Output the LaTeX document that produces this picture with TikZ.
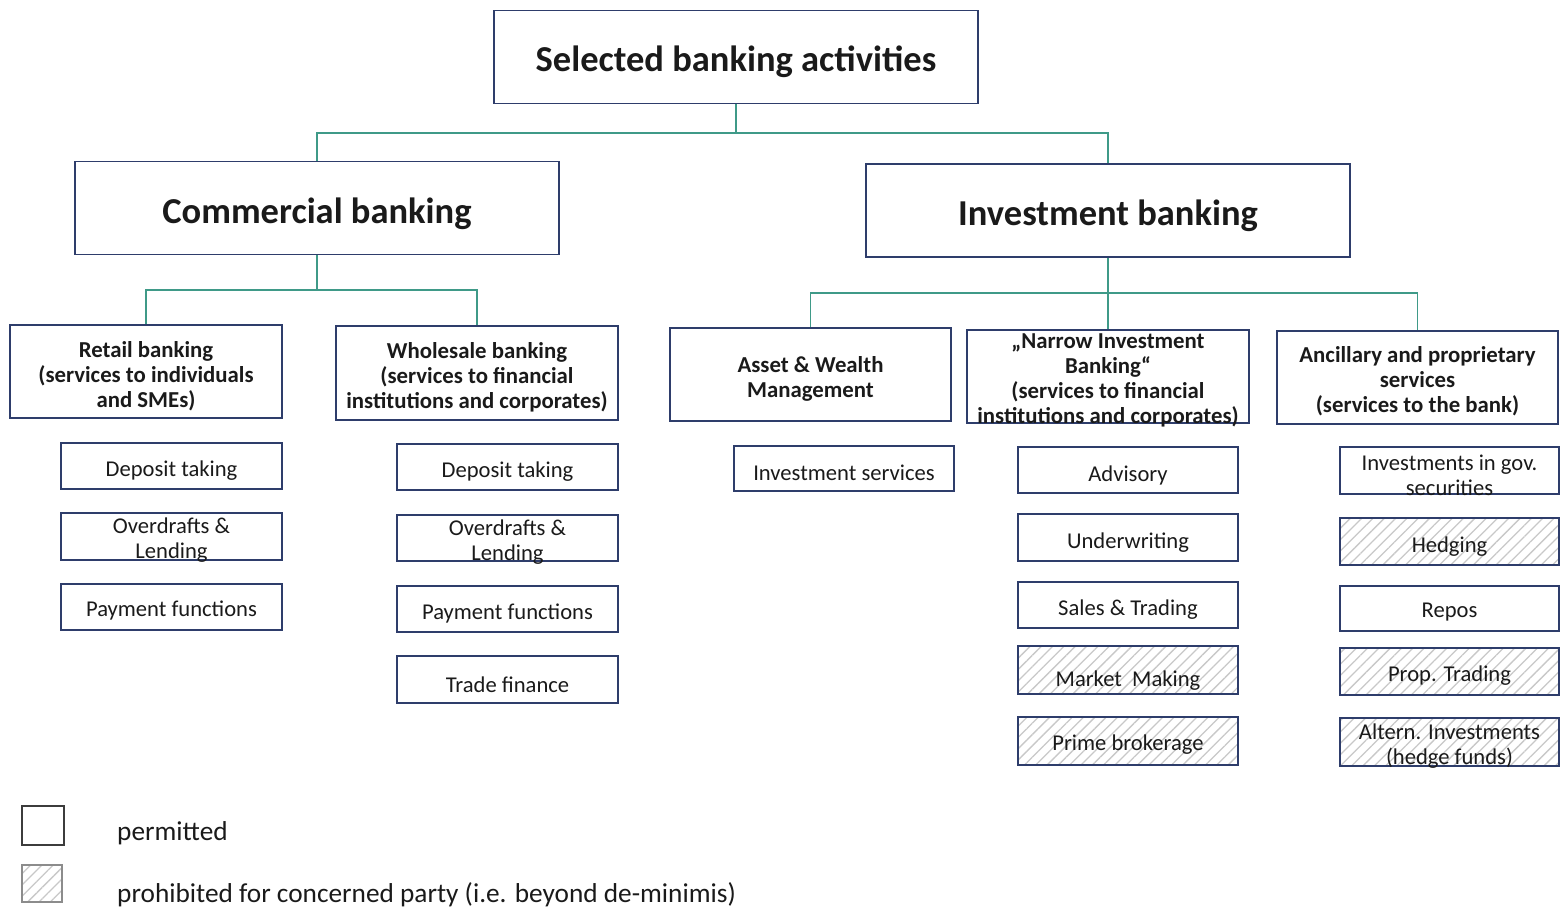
\documentclass[tikz,border=0pt]{standalone}
\usepackage{fontspec}
\setmainfont{Carlito}
\usetikzlibrary{patterns.meta}
\definecolor{boxline}{HTML}{2E3D6B}
\definecolor{conn}{HTML}{3F9A88}
\definecolor{hatch}{HTML}{C8C8C8}
\definecolor{ink}{HTML}{1A1A1A}
\begin{document}
\begin{tikzpicture}[x=1pt,y=-1pt,
  box/.style={draw=boxline, line width=1.8pt, inner sep=0pt},
  headbox/.style={box, minimum width=484pt, minimum height=93pt},
  headtext/.style={inner sep=0pt, text=ink,
    font=\bfseries\fontsize{36.5}{40}\selectfont},
  groupbox/.style={box, minimum width=281pt, minimum height=93pt},
  grouptext/.style={inner sep=0pt, align=center, text=ink,
    font=\bfseries\fontsize{22.8}{25}\selectfont},
  leaf/.style={box, minimum width=220pt, minimum height=46pt},
  leaftext/.style={inner sep=0pt, align=center, text=ink,
    font=\fontsize{22.6}{25}\selectfont},
  banned/.style={pattern={Lines[angle=45,distance=8pt,line width=1.3pt]},
    pattern color=hatch},
  link/.style={draw=conn, line width=1.8pt},
  legendtext/.style={anchor=west, inner sep=0pt, text=ink,
    font=\fontsize{27.3}{30}\selectfont}]
\useasboundingbox (0,0) rectangle (1560,907);

% ---- top level ----
\node[headbox] (root) at (736,57) {};
\node[headtext] (root-t) at ([yshift=-5pt]root.center) {Selected banking activities};
\node[headbox] (comm) at (317,208) {};
\node[headtext] (comm-t) at ([yshift=-6pt]comm.center) {Commercial banking};
\node[headbox] (inv) at (1108,210.5) {};
\node[headtext] (inv-t) at ([yshift=-5pt]inv.center) {Investment banking};

% ---- group boxes ----
\node[groupbox, minimum width=272pt] (retail) at (146,371.5) {};
\node[grouptext] (retail-t) at ([yshift=-4.5pt]retail.center)
  {Retail banking\\(services to individuals\\and SMEs)};
\node[groupbox, minimum width=282pt, minimum height=94pt] (whole) at (477,373) {};
\node[grouptext] (whole-t) at ([yshift=-4pt]whole.center)
  {Wholesale banking\\(services to financial\\institutions and corporates)};
\node[groupbox] (asset) at (810.5,374.5) {};
\node[grouptext] (asset-t) at ([yshift=-4pt]asset.center)
  {Asset \& Wealth\\Management};
\node[groupbox, minimum width=282pt] (narrow) at (1108,376.5) {};
\node[grouptext] (narrow-t) at ([yshift=-4pt]narrow.center)
  {„Narrow Investment\\Banking“\\(services to financial\\institutions and corporates)};
\node[groupbox] (ancil) at (1417.5,377.5) {};
\node[grouptext] (ancil-t) at ([yshift=-4pt]ancil.center)
  {Ancillary and proprietary\\services\\(services to the bank)};

% ---- connectors ----
\coordinate (j0) at (736,133);
\draw[link] (root.south) -- (j0) -| (comm.north);
\draw[link] (j0) -| (inv.north);
\coordinate (j1) at (317,290);
\draw[link] (comm.south) -- (j1) -| (retail.north);
\draw[link] (j1) -| (whole.north);
\coordinate (j2) at (1108,293);
\draw[link] (inv.south) -- (j2) -| (asset.north);
\draw[link] (j2) -- (narrow.north);
\draw[link] (j2) -| (ancil.north);

% ---- retail activities ----
\node[leaf, minimum width=221pt] (r1) at (171.5,466) {};
\node[leaftext] (r1-t) at ([yshift=-5pt]r1.center) {Deposit taking};
\node[leaf, minimum width=221pt, minimum height=47pt] (r2) at (171.5,536.5) {};
\node[leaftext] (r2-t) at ([yshift=-4pt]r2.center) {Overdrafts \&\\Lending};
\node[leaf, minimum width=221pt] (r3) at (171.5,607) {};
\node[leaftext] (r3-t) at ([yshift=-4pt]r3.center) {Payment functions};

% ---- wholesale activities ----
\node[leaf, minimum width=221pt] (w1) at (507.5,467) {};
\node[leaftext] (w1-t) at ([yshift=-5pt]w1.center) {Deposit taking};
\node[leaf, minimum width=221pt] (w2) at (507.5,538) {};
\node[leaftext] (w2-t) at ([yshift=-4pt]w2.center) {Overdrafts \&\\Lending};
\node[leaf, minimum width=221pt] (w3) at (507.5,609) {};
\node[leaftext] (w3-t) at ([yshift=-4pt]w3.center) {Payment functions};
\node[leaf, minimum width=221pt, minimum height=47pt] (w4) at (507.5,679.5) {};
\node[leaftext] (w4-t) at ([yshift=-5pt]w4.center) {Trade finance};

% ---- asset & wealth management ----
\node[leaf, minimum height=45pt] (a1) at (844,468.5) {};
\node[leaftext] (a1-t) at ([yshift=-4pt]a1.center) {Investment services};

% ---- narrow investment banking ----
\node[leaf] (n1) at (1128,470) {};
\node[leaftext] (n1-t) at ([yshift=-5pt]n1.center) {Advisory};
\node[leaf, minimum height=47pt] (n2) at (1128,537.5) {};
\node[leaftext] (n2-t) at ([yshift=-5pt]n2.center) {Underwriting};
\node[leaf] (n3) at (1128,605) {};
\node[leaftext] (n3-t) at ([yshift=-5pt]n3.center) {Sales \& Trading};
\node[leaf, banned, minimum height=48pt] (n4) at (1128,670) {};
\node[leaftext] (n4-t) at ([yshift=-11pt]n4.center) {Market\ \ Making};
\node[leaf, banned, minimum height=48pt] (n5) at (1128,741) {};
\node[leaftext] (n5-t) at ([yshift=-4pt]n5.center) {Prime brokerage};

% ---- ancillary and proprietary services ----
\node[leaf, minimum width=219pt, minimum height=47pt] (p1) at (1449.5,470.5) {};
\node[leaftext] (p1-t) at ([yshift=-5pt]p1.center) {Investments in gov.\\securities};
\node[leaf, banned, minimum width=219pt, minimum height=47pt] (p2) at (1449.5,541.5) {};
\node[leaftext] (p2-t) at ([yshift=-5pt]p2.center) {Hedging};
\node[leaf, minimum width=219pt, minimum height=45pt] (p3) at (1449.5,608.5) {};
\node[leaftext] (p3-t) at ([yshift=-4pt]p3.center) {Repos};
\node[leaf, banned, minimum width=219pt, minimum height=47pt] (p4) at (1449.5,671.5) {};
\node[leaftext] (p4-t) at ([yshift=-4pt]p4.center) {Prop. Trading};
\node[leaf, banned, minimum width=219pt, minimum height=48pt] (p5) at (1449.5,742) {};
\node[leaftext] (p5-t) at ([yshift=-4pt]p5.center) {Altern. Investments\\(hedge funds)};

% ---- legend ----
\node[draw=ink!85, line width=1.8pt, minimum width=42pt, minimum height=39pt,
  inner sep=0pt] (key1) at (43,825.5) {};
\node[legendtext] (key1-t) at (117,833) {permitted};
\node[draw=gray!90, line width=1.5pt, banned, minimum width=40pt, minimum height=37pt,
  inner sep=0pt] (key2) at (42,883.5) {};
\node[legendtext] (key2-t) at (117,895) {prohibited for concerned party (i.e. beyond de-minimis)};
\end{tikzpicture}
\end{document}
